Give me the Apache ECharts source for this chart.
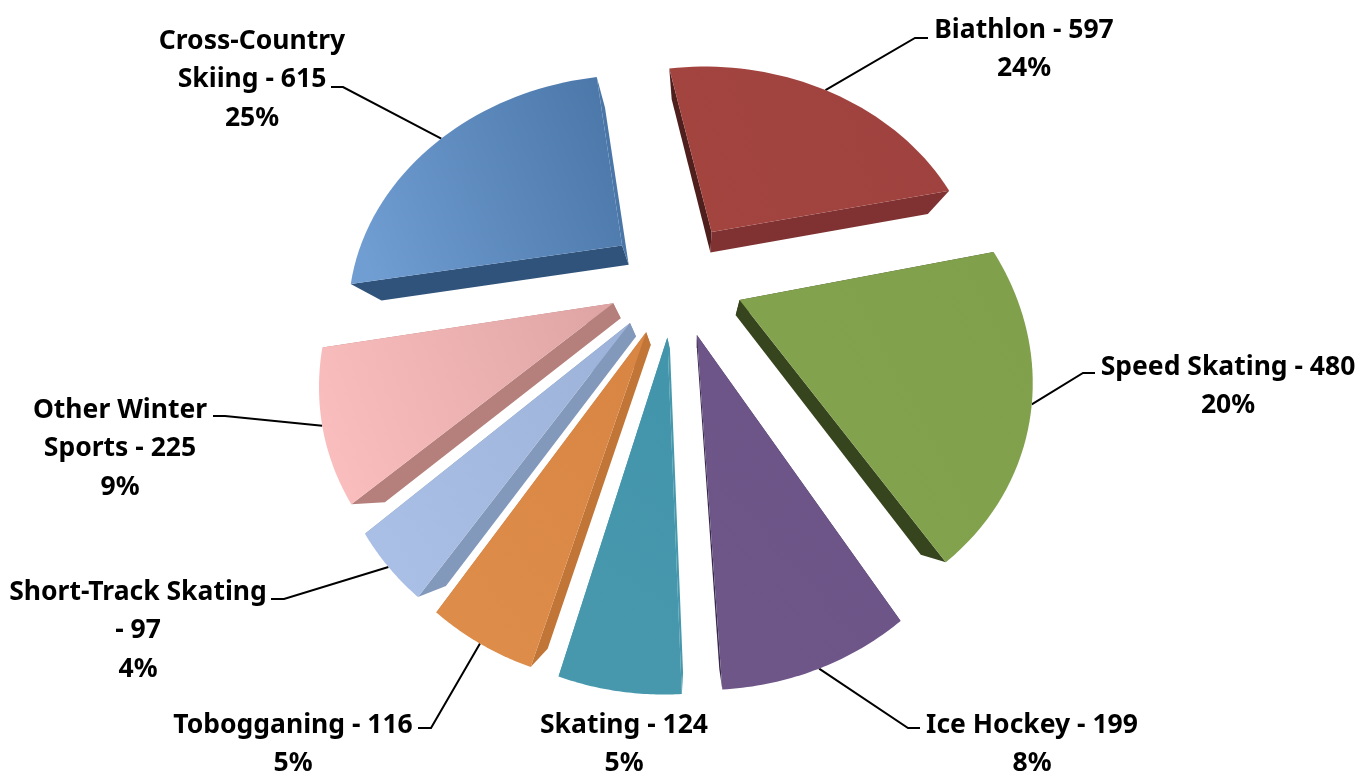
<!DOCTYPE html>
<html>
<head>
<meta charset="utf-8">
<script src="https://cdn.jsdelivr.net/npm/echarts@6/dist/echarts.min.js"></script>
<style>
html,body{margin:0;padding:0;background:#fff;}
#main{width:1361px;height:774px;}
</style>
</head>
<body>
<div id="main"></div>
<script>
var categories = ['Biathlon','Speed Skating','Ice Hockey','Skating','Tobogganing','Short-Track Skating\n','Other Winter\nSports','Cross-Country\nSkiing'];
var medals = [597,480,199,124,116,97,225,615];

// colours: top face gradient (light end, dark end), wall on the start edge, wall on the end edge
var topLight = ['#a3443f','#84a34e','#6f5689','#4798ad','#de8c49','#aabfe5','#fbbebe','#709dd2'];
var topDark = ['#9f423f','#80a04c','#6c5488','#4395ab','#d98645','#9eb3d9','#dfa5a5','#4a76a8'];
var wallStart = ['#4f1f1d','#37451e','#36294a','#4798ad','#c17637','#8399bb','#b57f7c','#30537b'];
var wallEnd = ['#7f3231','#37451e','#36294a','#4798ad','#c17637','#8399bb','#b57f7c','#4a76a8'];

// label centre and the elbow of its leader line
var labelX = [1024,1228,1032,624,293,138,120,252];
var labelY = [49.5,386.5,744.5,744.5,744.5,630.5,448.5,79.5];
var elbowX = [[915,928],[1083,1095],[908,920],null,[431,418],[284,271],[225,213],[343,331]];
var elbowY = [[38,38],[373,373],[728,728],null,[728,728],[599,599],[416,416],[87,87]];

// perspective of the tilted pie
var startDeg = -9.8, explode = 0.25;
var upper = {cx:675.6, cy:277, rx:271, ry:228, k:0.255};
var lower = {cx:677.5, cy:294, rx:247, ry:211, k:0.245};

var total = medals.reduce(function(a,b){return a+b;},0);

function slicePoint(plane, mid, deg, r){
    var m = mid*Math.PI/180, a = deg*Math.PI/180;
    var px = explode*Math.sin(m) + r*Math.sin(a);
    var py = explode*Math.cos(m) + r*Math.cos(a);
    var s = 1/(1+plane.k*py);
    return [plane.cx + plane.rx*px*s, plane.cy - plane.ry*py*s];
}

function renderSlice(params, api){
    var i = api.value(0);
    var before = 0;
    for(var n=0;n<i;n++){ before += medals[n]; }
    var a0 = startDeg + before/total*360;
    var a1 = a0 + medals[i]/total*360;
    var mid = (a0+a1)/2;

    var apex = slicePoint(upper,mid,a0,0), apexLow = slicePoint(lower,mid,a0,0);
    var rim0 = slicePoint(upper,mid,a0,1), rim0Low = slicePoint(lower,mid,a0,1);
    var rim1 = slicePoint(upper,mid,a1,1), rim1Low = slicePoint(lower,mid,a1,1);

    var face = [apex];
    for(var t=0;t<=40;t++){
        face.push(slicePoint(upper,mid,a0+(a1-a0)*t/40,1));
    }

    var children = [];
    // leader line sits behind the slice
    if(elbowX[i]){
        var from = slicePoint(upper,mid,mid,1);
        children.push({
            type:'polyline',
            shape:{points:[from,[elbowX[i][0],elbowY[i][0]],[elbowX[i][1],elbowY[i][1]]]},
            style:{stroke:'#000',lineWidth:2,fill:null}
        });
    }
    children.push({type:'polygon',shape:{points:[apex,rim0,rim0Low,apexLow]},style:{fill:wallStart[i]}});
    children.push({type:'polygon',shape:{points:[apex,rim1,rim1Low,apexLow]},style:{fill:wallEnd[i]}});
    children.push({
        type:'polygon',
        shape:{points:face},
        style:{fill:new echarts.graphic.LinearGradient(0,0.7,1,0.2,[
            {offset:0,color:topLight[i]},
            {offset:1,color:topDark[i]}
        ])}
    });
    var name = categories[i]+' - '+medals[i];
    children.push({
        type:'text',
        style:{
            text:name.replace('\n ','\n')+'\n'+Math.round(medals[i]/total*100)+'%',
            x:labelX[i],y:labelY[i],
            align:'center',verticalAlign:'middle',
            font:'bold 26.5px "Noto Sans"',lineHeight:38.5,
            fill:'#000'
        }
    });
    return {type:'group',children:children};
}

var myChart = echarts.init(document.getElementById('main'));
var option = {
    animation:false,
    backgroundColor:'#fff',
    series:[{
        type:'custom',
        coordinateSystem:'none',
        silent:true,
        renderItem:renderSlice,
        data:medals.map(function(v,i){return [i,v];})
    }]
};
myChart.setOption(option);
</script>
</body>
</html>
